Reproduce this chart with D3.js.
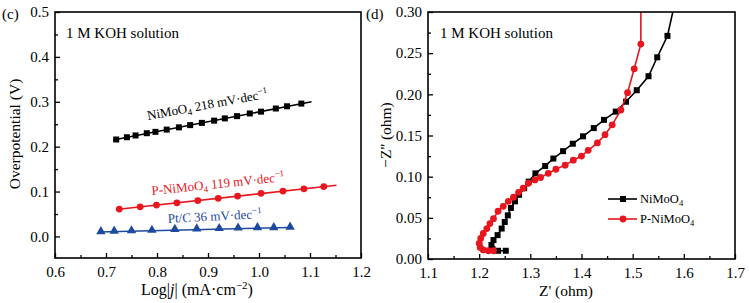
<!DOCTYPE html>
<html>
<head>
<meta charset="utf-8">
<script src="https://cdn.jsdelivr.net/npm/d3@7"></script>
<style>
  body { margin: 0; background: #fff; }
  svg { display: block; font-family: "Liberation Serif", "Times New Roman", serif; }
</style>
</head>
<body>
<svg id="chart" width="749" height="303"></svg>
<script>
// ---- data ----
// (c) Tafel plots
const niMoO4LogJ = [0.720, 0.741, 0.758, 0.780, 0.797, 0.819, 0.843, 0.865, 0.888, 0.912, 0.933, 0.957, 0.982, 1.004, 1.033, 1.055, 1.083];
const niMoO4Eta  = [0.216, 0.221, 0.225, 0.230, 0.233, 0.238, 0.243, 0.248, 0.253, 0.258, 0.263, 0.268, 0.274, 0.278, 0.285, 0.290, 0.296];
const pNiMoO4LogJ = [0.726, 0.767, 0.799, 0.839, 0.880, 0.920, 0.958, 1.004, 1.047, 1.088, 1.127];
const pNiMoO4Eta  = [0.061, 0.066, 0.070, 0.075, 0.080, 0.085, 0.090, 0.096, 0.101, 0.106, 0.111];
const ptcLogJ = [0.690, 0.716, 0.750, 0.790, 0.835, 0.878, 0.922, 0.959, 0.997, 1.029, 1.061];
const ptcEta  = [0.010, 0.011, 0.012, 0.013, 0.015, 0.016, 0.017, 0.018, 0.019, 0.019, 0.020];
// fitted lines (start, end)
const niMoO4FitX = [0.714, 1.103], niMoO4FitY = [0.215, 0.300];
const pNiMoO4FitX = [0.720, 1.152], pNiMoO4FitY = [0.060, 0.114];
const ptcFitX = [0.685, 1.061], ptcFitY = [0.010, 0.020];

// (d) Nyquist plots
const nyqNiMoO4Re = [1.252, 1.237, 1.226, 1.224, 1.228, 1.236, 1.244, 1.250, 1.256, 1.262, 1.270, 1.278, 1.288, 1.297, 1.310, 1.329, 1.345, 1.364, 1.383, 1.403, 1.424, 1.444, 1.467, 1.487, 1.508, 1.531, 1.548, 1.568];
const nyqNiMoO4Im = [0.010, 0.010, 0.012, 0.017, 0.023, 0.029, 0.037, 0.045, 0.053, 0.062, 0.070, 0.078, 0.086, 0.094, 0.104, 0.113, 0.122, 0.131, 0.140, 0.149, 0.159, 0.169, 0.179, 0.191, 0.205, 0.222, 0.245, 0.271];
const nyqPNiMoO4Re = [1.228, 1.218, 1.208, 1.202, 1.200, 1.203, 1.208, 1.215, 1.221, 1.228, 1.237, 1.247, 1.257, 1.267, 1.277, 1.286, 1.296, 1.309, 1.320, 1.335, 1.350, 1.368, 1.384, 1.400, 1.413, 1.431, 1.446, 1.460, 1.477, 1.490, 1.503, 1.516];
const nyqPNiMoO4Im = [0.010, 0.010, 0.011, 0.014, 0.019, 0.025, 0.031, 0.037, 0.043, 0.049, 0.058, 0.064, 0.070, 0.075, 0.081, 0.086, 0.092, 0.096, 0.099, 0.104, 0.109, 0.114, 0.120, 0.125, 0.132, 0.141, 0.151, 0.163, 0.181, 0.202, 0.231, 0.261];
// line continues past the top of the frame
const nyqNiMoO4TailRe = 1.582, nyqNiMoO4TailIm = 0.31;
const nyqPNiMoO4TailRe = 1.516, nyqPNiMoO4TailIm = 0.31;

const xTicksC = [0.6, 0.7, 0.8, 0.9, 1.0, 1.1, 1.2];
const yTicksC = [0.0, 0.1, 0.2, 0.3, 0.4, 0.5];
const xTicksD = [1.1, 1.2, 1.3, 1.4, 1.5, 1.6, 1.7];
const yTicksD = [0.00, 0.05, 0.10, 0.15, 0.20, 0.25, 0.30];

const RED = "#e8161e", BLUE = "#1d4a9e", BLACK = "#000";

const svg = d3.select("#chart");

// inward major + minor ticks on left and bottom
function drawAxes(g, x, y, xt, yt, xMinor, yMinor, xFmt, yFmt, h) {
  g.append("g").attr("transform", `translate(0,${h})`)
    .call(d3.axisBottom(x).tickValues(xMinor).tickSize(-3).tickFormat(""));
  g.append("g").attr("transform", `translate(0,${h})`)
    .call(d3.axisBottom(x).tickValues(xt).tickSize(-5).tickPadding(8).tickFormat(xFmt));
  g.append("g")
    .call(d3.axisLeft(y).tickValues(yMinor).tickSize(-3).tickFormat(""));
  g.append("g")
    .call(d3.axisLeft(y).tickValues(yt).tickSize(-5).tickPadding(6).tickFormat(yFmt));
  g.selectAll(".domain").remove();
  g.selectAll(".tick line").attr("stroke", "#000").attr("stroke-width", 1.3);
  g.selectAll(".tick text").attr("fill", "#000").style("font-size", "15px")
    .style("font-family", '"Liberation Serif", serif');
}

const zip = (a, b) => a.map((v, i) => [v, b[i]]);

// ================= panel (c) =================
const c = { left: 55, top: 12, width: 306, height: 246 };
const gc = svg.append("g").attr("transform", `translate(${c.left},${c.top})`);
const xc = d3.scaleLinear().domain([0.6, 1.2]).range([0, c.width]);
const yc = d3.scaleLinear().domain([-0.048, 0.5]).range([c.height, 0]);

drawAxes(gc, xc, yc, xTicksC, yTicksC,
  d3.range(0.65, 1.2, 0.1), d3.range(-0.05, 0.5, 0.1).filter(v => v > -0.048),
  d3.format(".1f"), d3.format(".1f"), c.height);

gc.append("rect").attr("width", c.width).attr("height", c.height)
  .attr("fill", "none").attr("stroke", "#000").attr("stroke-width", 1.6);

const lineC = d3.line().x(d => xc(d[0])).y(d => yc(d[1]));

// fitted lines
[[niMoO4FitX, niMoO4FitY, BLACK], [pNiMoO4FitX, pNiMoO4FitY, RED], [ptcFitX, ptcFitY, BLUE]].forEach(([fx, fy, col]) => {
  gc.append("path").datum(zip(fx, fy)).attr("d", lineC)
    .attr("fill", "none").attr("stroke", col).attr("stroke-width", 1.6);
});

// markers
gc.selectAll(".sq").data(zip(niMoO4LogJ, niMoO4Eta)).enter().append("rect")
  .attr("x", d => xc(d[0]) - 3).attr("y", d => yc(d[1]) - 3)
  .attr("width", 6).attr("height", 6).attr("fill", BLACK);
gc.selectAll(".ci").data(zip(pNiMoO4LogJ, pNiMoO4Eta)).enter().append("circle")
  .attr("cx", d => xc(d[0])).attr("cy", d => yc(d[1])).attr("r", 3.4).attr("fill", RED);
gc.selectAll(".tr").data(zip(ptcLogJ, ptcEta)).enter().append("path")
  .attr("d", d3.symbol(d3.symbolTriangle, 38))
  .attr("transform", d => `translate(${xc(d[0])},${yc(d[1]) - 0.5})`).attr("fill", BLUE);

// slope annotations
const lab1 = gc.append("text").attr("transform", `translate(${148 - c.left},${120 - c.top}) rotate(-10.5)`)
  .style("font-size", "13px").attr("fill", BLACK);
lab1.append("tspan").text("NiMoO");
lab1.append("tspan").text("4").attr("dy", 3).style("font-size", "9px");
lab1.append("tspan").text(" 218 mV·dec").attr("dy", -3);
lab1.append("tspan").text("−1").attr("dy", -5).style("font-size", "9px");

const lab2 = gc.append("text").attr("transform", `translate(${152 - c.left},${195 - c.top}) rotate(-6)`)
  .style("font-size", "13px").attr("fill", RED);
lab2.append("tspan").text("P-NiMoO");
lab2.append("tspan").text("4").attr("dy", 3).style("font-size", "9px");
lab2.append("tspan").text(" 119 mV·dec").attr("dy", -3);
lab2.append("tspan").text("−1").attr("dy", -5).style("font-size", "9px");

const lab3 = gc.append("text").attr("transform", `translate(${168 - c.left},${223 - c.top}) rotate(-3)`)
  .style("font-size", "13px").attr("fill", BLUE);
lab3.append("tspan").text("Pt/C 36 mV·dec");
lab3.append("tspan").text("−1").attr("dy", -5).style("font-size", "9px");

gc.append("text").attr("x", 66 - c.left).attr("y", 38 - c.top)
  .style("font-size", "15px").text("1 M KOH solution");

// axis titles
const xtC = svg.append("text").attr("x", 197).attr("y", 295).attr("text-anchor", "middle")
  .style("font-size", "16px");
xtC.append("tspan").text("Log|");
xtC.append("tspan").text("j").style("font-style", "italic");
xtC.append("tspan").text("| (mA·cm");
xtC.append("tspan").text("−2").attr("dy", -6).style("font-size", "11px");
xtC.append("tspan").text(")").attr("dy", 6);

svg.append("text").attr("transform", "translate(20,134) rotate(-90)")
  .attr("text-anchor", "middle").style("font-size", "15.5px").text("Overpotential (V)");

svg.append("text").attr("x", 2).attr("y", 19).style("font-size", "15px").text("(c)");

// ================= panel (d) =================
const dP = { left: 428, top: 12, width: 307, height: 247 };
const gd = svg.append("g").attr("transform", `translate(${dP.left},${dP.top})`);
const xd = d3.scaleLinear().domain([1.1, 1.7]).range([0, dP.width]);
const yd = d3.scaleLinear().domain([0, 0.3]).range([dP.height, 0]);

drawAxes(gd, xd, yd, xTicksD, yTicksD,
  d3.range(1.15, 1.7, 0.1), d3.range(0.025, 0.3, 0.05),
  d3.format(".1f"), d3.format(".2f"), dP.height);

gd.append("clipPath").attr("id", "clipD").append("rect")
  .attr("width", dP.width).attr("height", dP.height);

const lineD = d3.line().x(d => xd(d[0])).y(d => yd(d[1]));
const plotD = gd.append("g").attr("clip-path", "url(#clipD)");

plotD.append("path")
  .datum(zip(nyqNiMoO4Re, nyqNiMoO4Im).concat([[nyqNiMoO4TailRe, nyqNiMoO4TailIm]]))
  .attr("d", lineD).attr("fill", "none").attr("stroke", BLACK).attr("stroke-width", 1.6);
plotD.selectAll(".sqd").data(zip(nyqNiMoO4Re, nyqNiMoO4Im)).enter().append("rect")
  .attr("x", d => xd(d[0]) - 3).attr("y", d => yd(d[1]) - 3)
  .attr("width", 6).attr("height", 6).attr("fill", BLACK);

plotD.append("path")
  .datum(zip(nyqPNiMoO4Re, nyqPNiMoO4Im).concat([[nyqPNiMoO4TailRe, nyqPNiMoO4TailIm]]))
  .attr("d", lineD).attr("fill", "none").attr("stroke", RED).attr("stroke-width", 1.6);
plotD.selectAll(".cid").data(zip(nyqPNiMoO4Re, nyqPNiMoO4Im)).enter().append("circle")
  .attr("cx", d => xd(d[0])).attr("cy", d => yd(d[1])).attr("r", 3.4).attr("fill", RED);

gd.append("rect").attr("width", dP.width).attr("height", dP.height)
  .attr("fill", "none").attr("stroke", "#000").attr("stroke-width", 1.6);

gd.append("text").attr("x", 440 - dP.left).attr("y", 38 - dP.top)
  .style("font-size", "15px").text("1 M KOH solution");

// legend
const legend = [["NiMoO", BLACK, "square", 199], ["P-NiMoO", RED, "circle", 219]];
legend.forEach(([name, col, shape, ly]) => {
  const g = svg.append("g");
  g.append("line").attr("x1", 608).attr("x2", 637).attr("y1", ly).attr("y2", ly)
    .attr("stroke", col).attr("stroke-width", 1.6);
  if (shape === "square") g.append("rect").attr("x", 620).attr("y", ly - 3).attr("width", 6).attr("height", 6).attr("fill", col);
  else g.append("circle").attr("cx", 623).attr("cy", ly).attr("r", 3.4).attr("fill", col);
  const t = g.append("text").attr("x", 640).attr("y", ly + 4).style("font-size", "12.5px");
  t.append("tspan").text(name);
  t.append("tspan").text("4").attr("dy", 3).style("font-size", "8.5px");
});

// axis titles
svg.append("text").attr("x", 566).attr("y", 296).attr("text-anchor", "middle")
  .style("font-size", "15.5px").text("Z' (ohm)");
svg.append("text").attr("transform", "translate(391,135) rotate(-90)")
  .attr("text-anchor", "middle").style("font-size", "15.5px").text("−Z'' (ohm)");

svg.append("text").attr("x", 366).attr("y", 19).style("font-size", "15px").text("(d)");
</script>
</body>
</html>
